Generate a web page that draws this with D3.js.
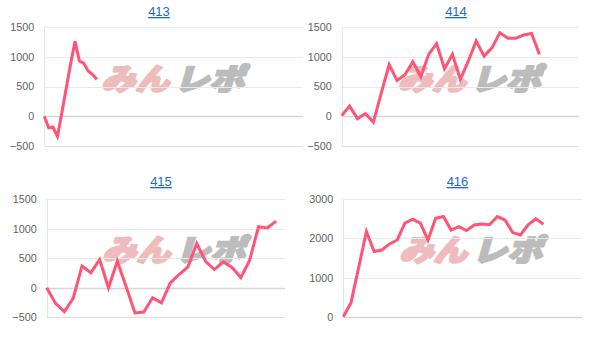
<!DOCTYPE html>
<html>
<head>
<meta charset="utf-8">
<script src="https://cdn.jsdelivr.net/npm/d3@7"></script>
<style>
  html, body { margin: 0; padding: 0; background: #fff; }
  svg { display: block; }
</style>
</head>
<body>
<svg id="chart" width="612" height="343"></svg>
<script>
// ---- data ----
const panelTitles = ["413", "414", "415", "416"];
const categoryCounts = [60, 31, 28, 32];
const series413 = [0, -195, -185, -340, 60, 470, 880, 1260, 930, 890, 760, 700, 620];
const series414 = [10, 170, -40, 45, -100, 390, 870, 600, 700, 915, 665, 1040, 1220, 800, 1040, 620, 925, 1265, 1010, 1150, 1405, 1310, 1310, 1365, 1390, 1040];
const series415 = [0, -265, -405, -180, 370, 255, 480, 0, 450, 20, -425, -410, -170, -255, 85, 225, 355, 750, 450, 310, 440, 345, 175, 470, 1035, 1015, 1130];
const series416 = [0, 360, 1260, 2175, 1665, 1705, 1860, 1960, 2390, 2490, 2390, 1960, 2515, 2560, 2215, 2300, 2200, 2345, 2370, 2350, 2560, 2470, 2150, 2090, 2345, 2500, 2365];
const ticksA = [-500, 0, 500, 1000, 1500];
const ticksB = [0, 1000, 2000, 3000];
const watermarkParts = ["みん", "レポ"];

const allSeries = [series413, series414, series415, series416];
const allTicks = [ticksA, ticksA, ticksA, ticksB];

// ---- layout ----
const layout = [
  { left: 44.3, right: 303, top: 27, bottom: 146, titleX: 159, titleY: 16, wmX: 174.5, wmY: 78.5 },
  { left: 341.7, right: 579, top: 27, bottom: 146, titleX: 456, titleY: 16, wmX: 471, wmY: 78.5 },
  { left: 46.7, right: 285, top: 199.3, bottom: 317.3, titleX: 161, titleY: 186, wmX: 175.5, wmY: 250 },
  { left: 343.3, right: 582, top: 199.3, bottom: 316.7, titleX: 457.5, titleY: 186, wmX: 472.5, wmY: 250 }
];

const svg = d3.select("#chart");
const font = "'Liberation Sans', Arial, Helvetica, sans-serif";

allSeries.forEach((data, i) => {
  const L = layout[i];
  const ticks = allTicks[i];
  const g = svg.append("g");

  const x = d3.scalePoint()
    .domain(d3.range(categoryCounts[i]))
    .range([L.left, L.right]);
  const y = d3.scaleLinear()
    .domain([d3.min(ticks), d3.max(ticks)])
    .range([L.bottom, L.top]);

  // watermark
  const wm = g.append("g")
    .attr("transform", `translate(${L.wmX},${L.wmY}) skewX(-16)`);
  wm.append("text")
    .attr("x", -70).attr("y", 11)
    .attr("textLength", 68).attr("lengthAdjust", "spacingAndGlyphs")
    .attr("font-family", "'Noto Sans CJK JP', sans-serif")
    .attr("font-weight", 900).attr("font-size", 30)
    .attr("fill", "#eebcbc").attr("stroke", "#eebcbc").attr("stroke-width", 2.2)
    .attr("stroke-linejoin", "round")
    .text(watermarkParts[0]);
  wm.append("text")
    .attr("x", 3).attr("y", 11)
    .attr("textLength", 70).attr("lengthAdjust", "spacingAndGlyphs")
    .attr("font-family", "'Noto Sans CJK JP', sans-serif")
    .attr("font-weight", 900).attr("font-size", 30)
    .attr("fill", "#bcbcbc").attr("stroke", "#bcbcbc").attr("stroke-width", 2.2)
    .attr("stroke-linejoin", "round")
    .text(watermarkParts[1]);

  // gridlines
  g.append("g").selectAll("line")
    .data(ticks)
    .join("line")
    .attr("x1", L.left).attr("x2", L.right)
    .attr("y1", d => Math.round(y(d)) + 0.5).attr("y2", d => Math.round(y(d)) + 0.5)
    .attr("stroke", d => (d === 0 ? "#d6d6d6" : (d === d3.min(ticks) ? "#dcdcdc" : "#e9e9e9")))
    .attr("stroke-width", d => (d === 0 ? 1.6 : 1));

  // left axis line
  g.append("line")
    .attr("x1", Math.round(L.left) + 0.5).attr("x2", Math.round(L.left) + 0.5)
    .attr("y1", L.top).attr("y2", L.bottom)
    .attr("stroke", "#e6e6e6");

  // y axis labels via d3 axis
  const axis = d3.axisLeft(y).tickValues(ticks).tickFormat(d3.format("d")).tickSize(0).tickPadding(10);
  const ag = g.append("g").attr("transform", `translate(${L.left},0)`).call(axis);
  ag.select(".domain").remove();
  ag.selectAll("text")
    .attr("font-family", font)
    .attr("font-size", 10.8)
    .attr("fill", "#5f5f5f");

  // line
  const line = d3.line()
    .x((d, k) => x(k))
    .y(d => y(d));
  g.append("path")
    .datum(data)
    .attr("d", line)
    .attr("fill", "none")
    .attr("stroke", "#ff5474")
    .attr("stroke-width", 3)
    .attr("stroke-linejoin", "miter")
    .attr("stroke-linecap", "butt");

  // title
  g.append("text")
    .attr("x", L.titleX).attr("y", L.titleY)
    .attr("text-anchor", "middle")
    .attr("font-family", font)
    .attr("font-size", 13)
    .attr("fill", "#1a6bc9")
    .style("text-decoration", "underline")
    .text(panelTitles[i]);
});
</script>
</body>
</html>
